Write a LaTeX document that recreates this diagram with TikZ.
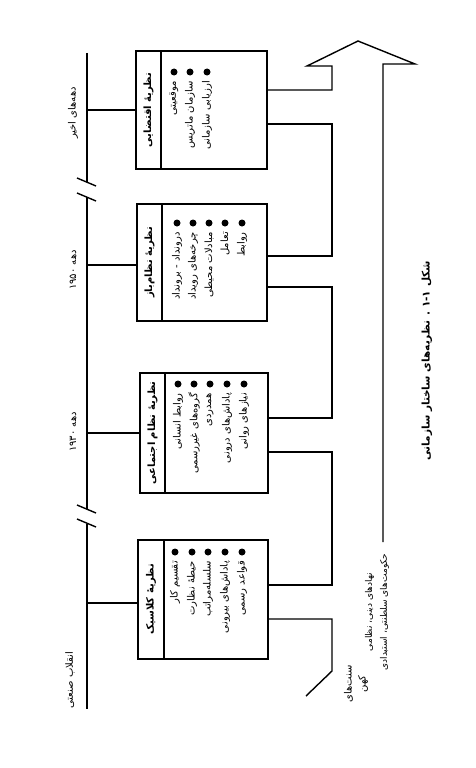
\documentclass[tikz,border=0pt]{standalone}
\usepackage{fontspec}
\newfontfamily\fa[Script=Arabic]{DejaVu Sans}
\TeXXeTstate=1
\newcommand{\rl}[1]{\beginR #1\endR}
\begin{document}
\begin{tikzpicture}[x=1pt,y=-1pt,
  ln/.style={line width=1.4pt, line join=miter},
  box/.style={draw, line width=1.4pt, inner sep=0pt},
  item/.style={rotate=90, anchor=east, inner sep=0pt, font=\fa\fontsize{10}{12}\selectfont},
  ttl/.style={rotate=90, inner sep=0pt, font=\fa\bfseries\fontsize{10}{12}\selectfont},
  lbl/.style={rotate=90, inner sep=0pt, align=center, font=\fa\fontsize{10}{14}\selectfont},
  dot/.style={circle, fill, inner sep=0pt, minimum size=7pt}]
\useasboundingbox (0,0) rectangle (476,768);
\coordinate (tl) at (87,0);

% timeline
\draw[ln] (87,53) -- (87,182);
\draw[ln] (87,197) -- (87,509);
\draw[ln] (87,524) -- (87,709);
\draw[ln] (77,178) -- (96,186);
\draw[ln] (77,193) -- (96,201);
\draw[ln] (77,505) -- (96,513);
\draw[ln] (77,519) -- (96,527);

% boxes
\node[box, minimum width=131pt, minimum height=118pt] (b1) at (201.5,110) {};
\node[box, minimum width=130pt, minimum height=117pt] (b2) at (202,262.5) {};
\node[box, minimum width=128pt, minimum height=120pt] (b3) at (204,433) {};
\node[box, minimum width=130pt, minimum height=119pt] (b4) at (203,599.5) {};
\draw[ln] (161,51) -- (161,169);
\draw[ln] (162,204) -- (162,321);
\draw[ln] (165,373) -- (165,493);
\draw[ln] (164,540) -- (164,659);

% timeline connectors
\draw[ln] (b1.west -| tl) -- (b1.west);
\draw[ln] ([yshift=-2.5pt]b2.west -| tl) -- ([yshift=-2.5pt]b2.west);
\draw[ln] (b3.west -| tl) -- (b3.west);
\draw[ln] ([yshift=-3.5pt]b4.west -| tl) -- ([yshift=-3.5pt]b4.west);

% titles
\node[ttl] (t1) at (148.5,110) {\rl{نظریهٔ اقتضایی}};
\node[ttl] (t2) at (149.5,262.5) {\rl{نظریهٔ نظام‌باز}};
\node[ttl] (t3) at (152.5,433) {\rl{نظریهٔ نظام اجتماعی}};
\node[ttl] (t4) at (151,599.5) {\rl{نظریهٔ کلاسیک}};

% box 1 items
\foreach \x/\t [count=\i] in {174/موقعیتی,190/سازمان ماتریس,207/ارزیابی سازمانی}{
  \node[dot] (d1\i) at (\x,72) {};
  \node[item] (i1\i) at (\x,81) {\rl{\t}};
}
% box 2 items
\foreach \x/\t [count=\i] in {177/درونداد - برونداد,193/چرخه‌های رویداد,209/مبادلات محیطی,225/تعامل,242/روابط}{
  \node[dot] (d2\i) at (\x,223) {};
  \node[item] (i2\i) at (\x,232) {\rl{\t}};
}
% box 3 items
\foreach \x/\t [count=\i] in {178/روابط انسانی,194/گروه‌های غیررسمی,210/همدردی,227/پاداش‌های درونی,244/نیازهای روانی}{
  \node[dot] (d3\i) at (\x,384) {};
  \node[item] (i3\i) at (\x,393) {\rl{\t}};
}
% box 4 items
\foreach \x/\t [count=\i] in {175/تقسیم کار,192/حیطهٔ نظارت,208/سلسله‌مراتب,225/پاداش‌های بیرونی,242/قواعد رسمی}{
  \node[dot] (d4\i) at (\x,552) {};
  \node[item] (i4\i) at (\x,561) {\rl{\t}};
}

% big arrow
\draw[ln] ([yshift=20pt]b1.east) -- (332,90) -- (332,66) -- (307,66) -- (358,41) -- (415,64) -- (383,64) -- (383,542);
\draw[ln] ([yshift=-14pt]b1.east) -- (332,124) -- (332,256) -- ([yshift=6.5pt]b2.east);
\draw[ln] ([yshift=-24.5pt]b2.east) -- (332,287) -- (332,418) -- ([yshift=15pt]b3.east);
\draw[ln] ([yshift=-19pt]b3.east) -- (332,452) -- (332,585) -- ([yshift=14.5pt]b4.east);
\draw[ln] ([yshift=-19.5pt]b4.east) -- (332,619) -- (332,671) -- (306,696);

% time labels
\node[lbl] (l1) at (73,113) {\rl{دهه‌های اخیر}};
\node[lbl] (l2) at (73,270) {\rl{دهه ۱۹۵۰}};
\node[lbl] (l3) at (73,432) {\rl{دهه ۱۹۳۰}};
\node[lbl] (l4) at (70,680) {\rl{انقلاب صنعتی}};

% origins
\node[lbl] (o1) at (356,684) {\rl{سنت‌های}\\\rl{کهن}};
\node[lbl, font=\fa\fontsize{9}{15}\selectfont] (o2) at (377,612) {\rl{نهادهای دینی، نظامی}\\\rl{حکومت‌های سلطنتی، استبدادی}};

% caption
\node[lbl, font=\fa\bfseries\fontsize{10.5}{14}\selectfont] (cap) at (427,361) {\rl{شکل ۱-۱ . نظریه‌های ساختار سازمانی}};
\end{tikzpicture}
\end{document}
